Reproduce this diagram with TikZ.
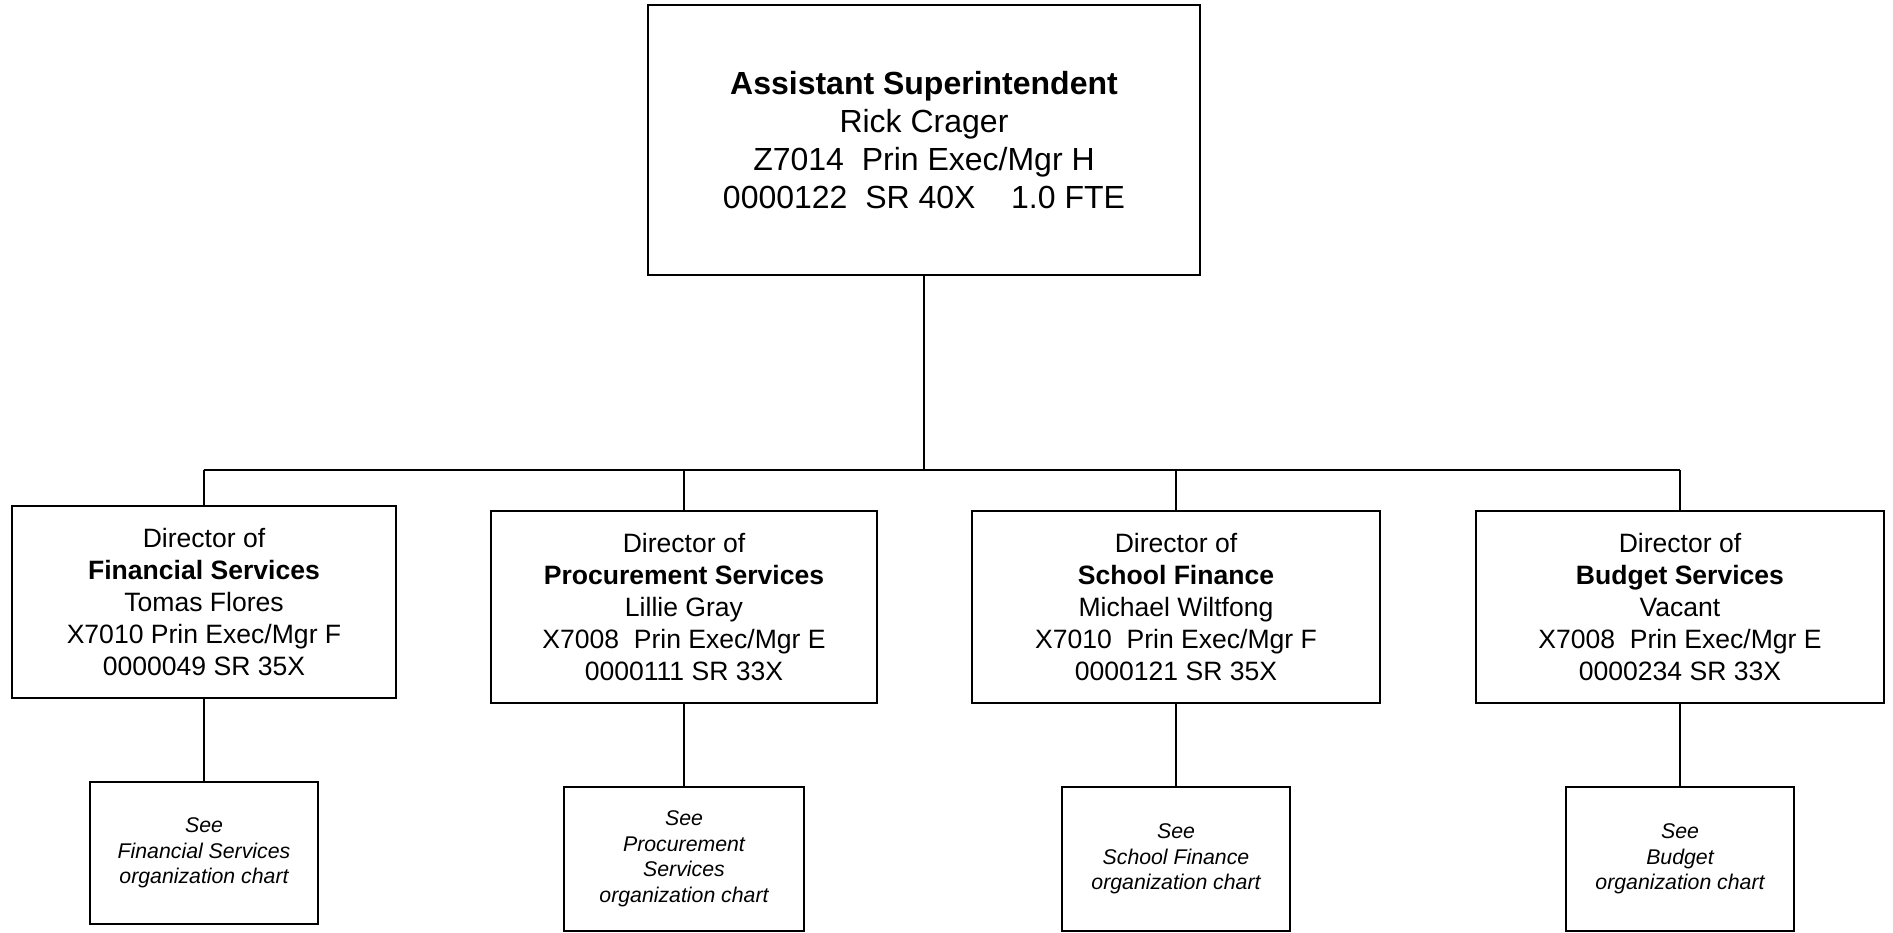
\documentclass[tikz,border=0pt]{standalone}
\usepackage{fontspec}
\setmainfont{Liberation Sans}
\usepackage{tikz}
\tikzset{
	chief/.style={draw, line width=0.55pt, minimum width=5.52cm, minimum height=2.70cm, align=center, inner sep=0pt, font=\fontsize{9.1}{10.8}\selectfont},
	director/.style={draw, line width=0.55pt, minimum height=1.92cm, align=center, inner sep=0pt, font=\fontsize{7.55}{9.1}\selectfont},
	seechart/.style={draw, line width=0.55pt, minimum width=2.28cm, minimum height=1.44cm, align=center, inner sep=0pt, font=\fontsize{6.05}{7.25}\selectfont\itshape},
	link/.style={line width=0.55pt}
}

\begin{document}
\begin{tikzpicture}[x=0.01cm, y=-0.01cm]
	\useasboundingbox (0,0) rectangle (1893,932);
	%top of the chart
	\node[chief] (asst) at (924,140) {\textbf{Assistant Superintendent}\\Rick Crager\\Z7014\ \ Prin Exec/Mgr H\\0000122\ \ SR 40X\ \ \ \ 1.0 FTE};
	
	%directors
	\node[director, minimum width=3.84cm] (fin) at (204,602) {Director of\\\textbf{Financial Services}\\Tomas Flores\\X7010 Prin Exec/Mgr F\\0000049 SR 35X};
	\node[director, minimum width=3.85cm] (proc) at (684,607) {Director of\\\textbf{Procurement Services}\\Lillie Gray\\X7008\ \ Prin Exec/Mgr E\\0000111 SR 33X};
	\node[director, minimum width=4.08cm] (school) at (1176,607) {Director of\\\textbf{School Finance}\\Michael Wiltfong\\X7010\ \ Prin Exec/Mgr F\\0000121 SR 35X};
	\node[director, minimum width=4.08cm] (budget) at (1680,607) {Director of\\\textbf{Budget Services}\\Vacant\\X7008\ \ Prin Exec/Mgr E\\0000234 SR 33X};
	
	%pointers to the other charts
	\node[seechart, minimum height=1.42cm] (finsee) at (204,853) {See\\Financial Services\\organization chart};
	\node[seechart, minimum width=2.40cm] (procsee) at (684,859) {See\\Procurement\\Services\\organization chart};
	\node[seechart] (schoolsee) at (1176,859) {See\\School Finance\\organization chart};
	\node[seechart] (budgetsee) at (1680,859) {See\\Budget\\organization chart};
	
	\coordinate (bar) at (924,470);
	\draw[link] (asst.south) -- (bar);
	\draw[link] (fin.north |- bar) -- (budget.north |- bar);
	\foreach \d/\s in {fin/finsee, proc/procsee, school/schoolsee, budget/budgetsee}
	{
		\draw[link] (\d.north |- bar) -- (\d.north);
		\draw[link] (\d.south) -- (\s.north);
	}
\end{tikzpicture}
\end{document}
